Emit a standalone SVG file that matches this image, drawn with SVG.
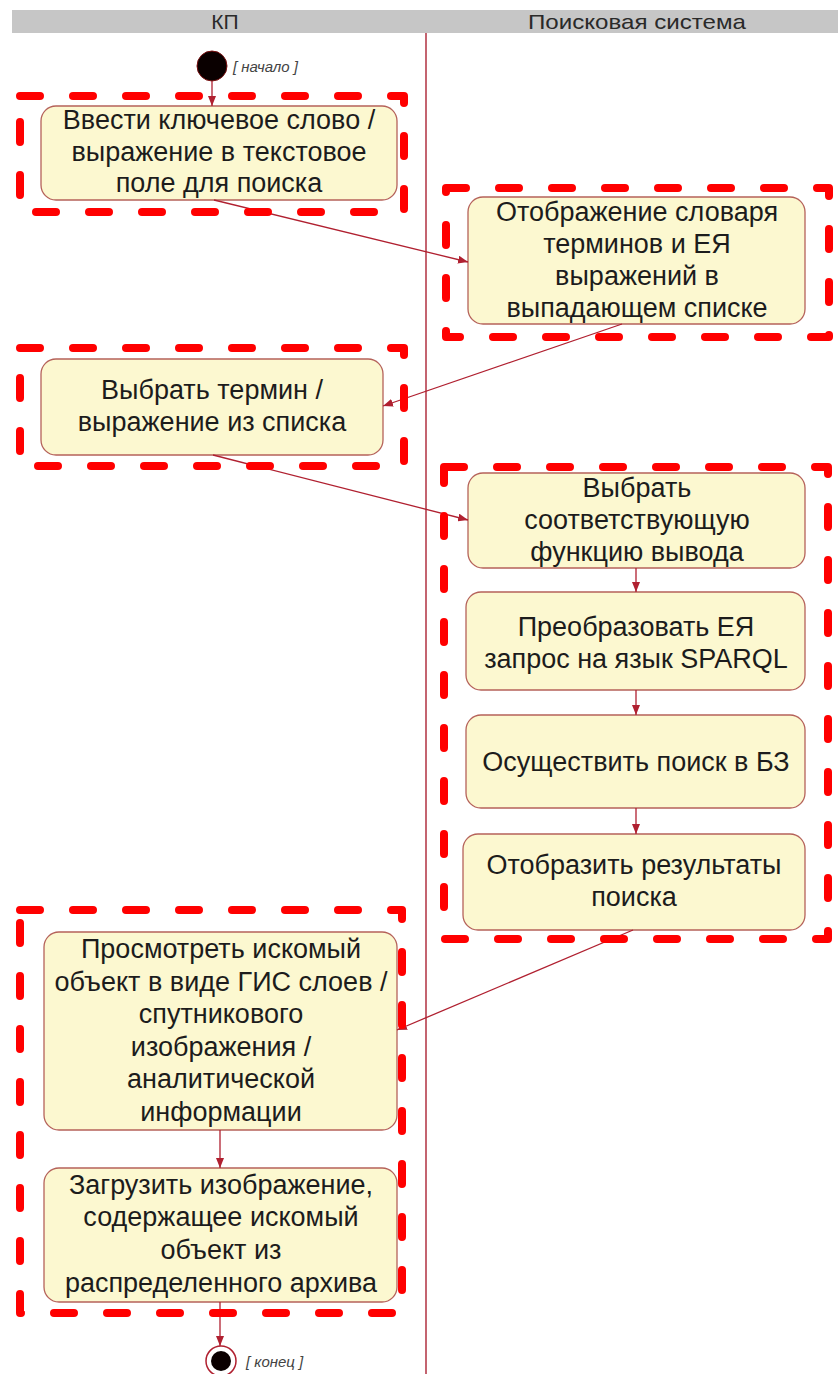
<svg xmlns="http://www.w3.org/2000/svg" width="838" height="1374" viewBox="0 0 838 1374">
  <style>
    .lane-bar { fill: #c6c6c6; }
    .lane-title { font-family: "Liberation Sans", Arial, sans-serif; font-size: 21px; fill: #2a2a2a; text-anchor: middle; }
    .divider { stroke: #b03040; stroke-width: 1.5; }
    .act { fill: #fcf8d0; stroke: #b5625a; stroke-width: 1.3; }
    .label { font-family: "Liberation Sans", Arial, sans-serif; font-size: 27px; fill: #1c1c1c; text-anchor: middle; }
    .guard { font-family: "Liberation Sans", Arial, sans-serif; font-size: 15px; font-style: italic; fill: #444; }
    .edge { stroke: #b02030; stroke-width: 1.3; fill: none; marker-end: url(#arrow); }
    .frame { fill: none; stroke: #ff0000; stroke-width: 8; stroke-dasharray: 20 33; stroke-linecap: round; stroke-linejoin: round; }
  </style>
  <defs>
    <marker id="arrow" markerWidth="10" markerHeight="8" refX="10" refY="4" orient="auto" markerUnits="userSpaceOnUse">
      <path d="M0,0 L10,4 L0,8 Z" fill="#b02030"/>
    </marker>
  </defs>

  <rect width="838" height="1374" fill="#ffffff"/>

  <!-- swimlane header -->
  <g id="lanes">
    <rect class="lane-bar" x="12" y="10" width="826" height="23"/>
    <text class="lane-title" x="225" y="29">КП</text>
    <text class="lane-title" x="637" y="29" textLength="218" lengthAdjust="spacingAndGlyphs">Поисковая система</text>
    <line class="divider" x1="426" y1="33" x2="426" y2="1374"/>
  </g>

  <!-- start / end -->
  <g id="start">
    <circle cx="212" cy="66" r="15" fill="#0a0000" stroke="#7a1010" stroke-width="1"/>
    <text class="guard" x="233" y="72">[ начало ]</text>
  </g>
  <g id="end">
    <circle cx="221" cy="1361" r="15" fill="#ffffff" stroke="#b02030" stroke-width="1.5"/>
    <circle cx="221" cy="1361" r="10" fill="#0a0000"/>
    <text class="guard" x="246" y="1367">[ конец ]</text>
  </g>

  <!-- activities -->
  <g id="a1">
    <rect class="act" x="41" y="106" width="356" height="94" rx="15"/>
    <text class="label"><tspan x="219" y="129">Ввести ключевое слово /</tspan><tspan x="219" y="161">выражение в текстовое</tspan><tspan x="219" y="192">поле для поиска</tspan></text>
  </g>
  <g id="a2">
    <rect class="act" x="468" y="197" width="337" height="127" rx="15"/>
    <text class="label"><tspan x="637" y="221">Отображение словаря</tspan><tspan x="637" y="253">терминов и ЕЯ</tspan><tspan x="637" y="285">выражений в</tspan><tspan x="637" y="317">выпадающем списке</tspan></text>
  </g>
  <g id="a3">
    <rect class="act" x="41" y="359" width="342" height="96" rx="15"/>
    <text class="label"><tspan x="212" y="399">Выбрать термин /</tspan><tspan x="212" y="431">выражение из списка</tspan></text>
  </g>
  <g id="a4">
    <rect class="act" x="468" y="473" width="337" height="95" rx="15"/>
    <text class="label"><tspan x="637" y="497">Выбрать</tspan><tspan x="637" y="529">соответствующую</tspan><tspan x="637" y="561">функцию вывода</tspan></text>
  </g>
  <g id="a5">
    <rect class="act" x="466" y="592" width="339" height="98" rx="15"/>
    <text class="label"><tspan x="636" y="636">Преобразовать ЕЯ</tspan><tspan x="636" y="668">запрос на язык SPARQL</tspan></text>
  </g>
  <g id="a6">
    <rect class="act" x="466" y="715" width="339" height="93" rx="15"/>
    <text class="label" x="636" y="771">Осуществить поиск в БЗ</text>
  </g>
  <g id="a7">
    <rect class="act" x="463" y="834" width="342" height="96" rx="15"/>
    <text class="label"><tspan x="634" y="874">Отобразить результаты</tspan><tspan x="634" y="906">поиска</tspan></text>
  </g>
  <g id="a8">
    <rect class="act" x="44" y="932" width="353" height="198" rx="15"/>
    <text class="label"><tspan x="221" y="958">Просмотреть искомый</tspan><tspan x="221" y="991">объект в виде ГИС слоев /</tspan><tspan x="221" y="1023">спутникового</tspan><tspan x="221" y="1056">изображения /</tspan><tspan x="221" y="1088">аналитической</tspan><tspan x="221" y="1121">информации</tspan></text>
  </g>
  <g id="a9">
    <rect class="act" x="44" y="1168" width="353" height="134" rx="15"/>
    <text class="label"><tspan x="221" y="1194">Загрузить изображение,</tspan><tspan x="221" y="1226">содержащее искомый</tspan><tspan x="221" y="1259">объект из</tspan><tspan x="221" y="1292">распределенного архива</tspan></text>
  </g>

  <!-- transitions -->
  <g id="connectors">
    <line class="edge" x1="212" y1="81" x2="212" y2="106"/>
    <line class="edge" x1="214" y1="200" x2="468" y2="262"/>
    <line class="edge" x1="622" y1="324" x2="383" y2="406"/>
    <line class="edge" x1="213" y1="455" x2="468" y2="520"/>
    <line class="edge" x1="636" y1="568" x2="636" y2="592"/>
    <line class="edge" x1="636" y1="690" x2="636" y2="715"/>
    <line class="edge" x1="636" y1="808" x2="636" y2="834"/>
    <line class="edge" x1="633" y1="930" x2="397" y2="1030"/>
    <line class="edge" x1="220" y1="1130" x2="220" y2="1168"/>
    <line class="edge" x1="220" y1="1302" x2="220" y2="1346"/>
  </g>

  <!-- highlight frames -->
  <g id="frames">
    <rect class="frame" x="20" y="96" width="384" height="116"/>
    <rect class="frame" x="446" y="188" width="383" height="149"/>
    <rect class="frame" x="20" y="348" width="384" height="118"/>
    <rect class="frame" x="444" y="467" width="384" height="472"/>
    <rect class="frame" x="20" y="910" width="382" height="403"/>
  </g>
</svg>
